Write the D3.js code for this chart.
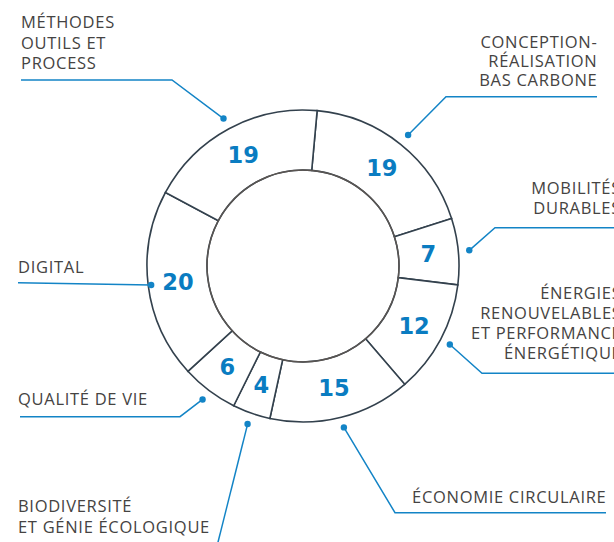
<!DOCTYPE html>
<html>
<head>
<meta charset="utf-8">
<script src="https://cdn.jsdelivr.net/npm/d3@7"></script>
<style>
  html, body { margin: 0; padding: 0; background: #ffffff; }
  svg { display: block; }
</style>
</head>
<body>
<svg id="chart" width="614" height="542"></svg>
<script>
// ---- data ----
const categories = [
  "CONCEPTION-RÉALISATION BAS CARBONE",
  "MOBILITÉS DURABLES",
  "ÉNERGIES RENOUVELABLES ET PERFORMANCE ÉNERGÉTIQUE",
  "ÉCONOMIE CIRCULAIRE",
  "BIODIVERSITÉ ET GÉNIE ÉCOLOGIQUE",
  "QUALITÉ DE VIE",
  "DIGITAL",
  "MÉTHODES OUTILS ET PROCESS"
];
const values = [19, 7, 12, 15, 4, 6, 20, 19];
const labelLines = [
  ["CONCEPTION-", "RÉALISATION", "BAS CARBONE"],
  ["MOBILITÉS", "DURABLES"],
  ["ÉNERGIES", "RENOUVELABLES", "ET PERFORMANCE", "ÉNERGÉTIQUE"],
  ["ÉCONOMIE CIRCULAIRE"],
  ["BIODIVERSITÉ", "ET GÉNIE ÉCOLOGIQUE"],
  ["QUALITÉ DE VIE"],
  ["DIGITAL"],
  ["MÉTHODES", "OUTILS ET", "PROCESS"]
];

// ---- layout ----
const cx = 303, cy = 266, rOuter = 156, rInner = 96, rLabel = 126;
const start = 5.2 * Math.PI / 180;
const blue = "#1384c6", valueBlue = "#0a7cc1", textGray = "#454342";

const layout = [
  { tx: 597.5, ty: 47.5, gap: 19.3, anchor: "end",   hy: 96.7,  hx0: 446,  hx1: 597, dr: 168 },
  { tx: 621,   ty: 194,  gap: 20.3, anchor: "end",   hy: 227.7, hx0: 495,  hx1: 614, dr: 167 },
  { tx: 621.5, ty: 299.3,gap: 20,   anchor: "end",   hy: 373.3, hx0: 482,  hx1: 614, dr: 166.5 },
  { tx: 606.5, ty: 503.3,gap: 20,   anchor: "end",   hy: 512.7, hx0: 395,  hx1: 606, dr: 166.5 },
  { tx: 18,    ty: 512.3,gap: 21,   anchor: "start", hy: null,  end: [217.3, 545], dr: 167.5 },
  { tx: 18,    ty: 405,  gap: 20,   anchor: "start", hy: 416.7, hx0: 20,   hx1: 180, dr: 167 },
  { tx: 18,    ty: 272.7,gap: 20,   anchor: "start", hy: 282.7, hx0: 18,   hx1: null, dr: 153 },
  { tx: 21,    ty: 28.3, gap: 20.2, anchor: "start", hy: 80,    hx0: 21,   hx1: 172, dr: 167.5 }
];

const svg = d3.select("#chart");
const g = svg.append("g").attr("transform", `translate(${cx},${cy})`);

const pie = d3.pie().sort(null).value(d => d).startAngle(start).endAngle(start + 2 * Math.PI);
const arcs = pie(values);
const arc = d3.arc().innerRadius(rInner).outerRadius(rOuter);
const labelArc = d3.arc().innerRadius(rLabel).outerRadius(rLabel);

g.selectAll("path.seg").data(arcs).join("path")
  .attr("class", "seg")
  .attr("d", arc)
  .attr("fill", "#ffffff")
  .attr("stroke", "#33414d")
  .attr("stroke-width", 1.6)
  .attr("stroke-linejoin", "miter");

g.append("circle").attr("r", rInner).attr("fill", "none")
  .attr("stroke", "#5a5552").attr("stroke-width", 1.4);

g.selectAll("text.val").data(arcs).join("text")
  .attr("class", "val")
  .attr("transform", d => `translate(${labelArc.centroid(d)})`)
  .attr("text-anchor", "middle")
  .attr("dy", "0.36em")
  .attr("font-family", "DejaVu Sans")
  .attr("font-weight", "bold")
  .attr("font-size", 22.5)
  .attr("fill", valueBlue)
  .text(d => d.value);

const mid = d => (d.startAngle + d.endAngle) / 2;
arcs.forEach((d, i) => {
  const L = layout[i];
  const a = mid(d);
  const dx = cx + L.dr * Math.sin(a), dy = cy - L.dr * Math.cos(a);
  let pts;
  if (L.hy === null) {
    pts = [[dx, dy], L.end];
  } else if (L.hx1 === null) {
    pts = [[L.hx0, L.hy], [dx, dy]];
  } else if (L.anchor === "end") {
    pts = [[dx, dy], [L.hx0, L.hy], [L.hx1, L.hy]];
  } else {
    pts = [[L.hx0, L.hy], [L.hx1, L.hy], [dx, dy]];
  }
  svg.append("path")
    .attr("d", d3.line()(pts))
    .attr("fill", "none")
    .attr("stroke", blue)
    .attr("stroke-width", 1.5);
  svg.append("circle").attr("cx", dx).attr("cy", dy).attr("r", 3.2).attr("fill", blue);

  labelLines[i].forEach((line, j) => {
    svg.append("text")
      .attr("x", L.tx).attr("y", L.ty + j * L.gap)
      .attr("text-anchor", L.anchor)
      .attr("font-family", "Open Sans")
      .attr("font-size", 16.5)
      .attr("font-weight", 500)
      .attr("letter-spacing", 0.7)
      .attr("fill", textGray)
      .text(line);
  });
});
</script>
</body>
</html>
